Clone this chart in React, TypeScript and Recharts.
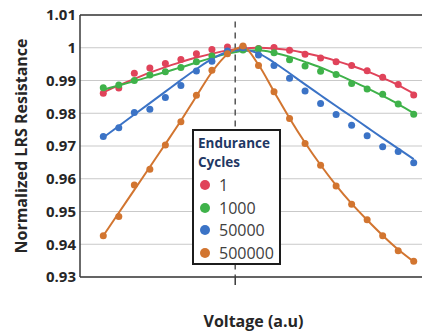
import React from "react";
import {
  LineChart,
  Line,
  XAxis,
  YAxis,
  CartesianGrid,
  ReferenceLine,
  Legend,
} from "recharts";

// voltage steps (a.u) and y ticks
const voltage = [0, 1, 2, 3, 4, 5, 6, 7, 8, 9, 10, 11, 12, 13, 14, 15, 16, 17, 18, 19, 20];
const yTicks = [0.93, 0.94, 0.95, 0.96, 0.97, 0.98, 0.99, 1, 1.01];

// measured points
const cycles1 = [0.9861, 0.9877, 0.9922, 0.9938, 0.9952, 0.9964, 0.9982, 0.9995, 1.0002, 1.0004, 0.9998, 1.0001, 0.9992, 0.998, 0.9969, 0.9957, 0.9946, 0.993, 0.991, 0.9888, 0.9856];
const cycles1000 = [0.9878, 0.9886, 0.99, 0.9917, 0.9927, 0.994, 0.9957, 0.9975, 0.9986, 0.9993, 0.9997, 0.9985, 0.9963, 0.9944, 0.9928, 0.9918, 0.9891, 0.9874, 0.9858, 0.9828, 0.9797];
const cycles50000 = [0.9729, 0.9756, 0.9802, 0.9812, 0.9848, 0.9885, 0.9929, 0.9959, 0.999, 1.0, 0.9978, 0.9946, 0.9907, 0.9868, 0.983, 0.9796, 0.9763, 0.9731, 0.9698, 0.9683, 0.9649];
const cycles500000 = [0.9426, 0.9485, 0.9581, 0.9629, 0.9703, 0.9774, 0.9855, 0.9931, 0.9982, 1.0005, 0.9946, 0.9866, 0.9784, 0.9708, 0.9641, 0.9578, 0.9522, 0.9475, 0.9426, 0.938, 0.9348];

// fitted curves
const fit1 = [0.9864, 0.9885, 0.9905, 0.9924, 0.9941, 0.9956, 0.997, 0.9982, 0.9992, 0.9998, 1.0, 0.9998, 0.9993, 0.9984, 0.9973, 0.996, 0.9945, 0.9928, 0.9908, 0.9886, 0.986];
const fit1000 = [0.9872, 0.9885, 0.9898, 0.9912, 0.9926, 0.994, 0.9955, 0.9969, 0.9982, 0.999, 0.9992, 0.9985, 0.9973, 0.9957, 0.994, 0.992, 0.9899, 0.9877, 0.9853, 0.9828, 0.98];
const fit50000 = [0.9726, 0.9761, 0.9796, 0.9831, 0.9866, 0.9901, 0.9935, 0.9966, 0.9987, 0.9993, 0.9983, 0.9955, 0.9922, 0.9888, 0.9855, 0.9822, 0.979, 0.9757, 0.9724, 0.9692, 0.966];
const fit500000 = [0.9426, 0.9496, 0.9566, 0.9636, 0.9706, 0.9777, 0.9852, 0.9926, 0.998, 1.0002, 0.9948, 0.9866, 0.9785, 0.971, 0.9642, 0.958, 0.9524, 0.9474, 0.9427, 0.9384, 0.9347];

const series = [
  { key: "a", name: "1", color: "#e0435a", points: cycles1, fit: fit1 },
  { key: "b", name: "1000", color: "#3fb24a", points: cycles1000, fit: fit1000 },
  { key: "c", name: "50000", color: "#3b73c6", points: cycles50000, fit: fit50000 },
  { key: "d", name: "500000", color: "#d27530", points: cycles500000, fit: fit500000 },
];

const rows = voltage.map((v, i) => {
  const row: Record<string, number> = { v };
  series.forEach((s) => {
    row["pt_" + s.key] = s.points[i];
    row["fit_" + s.key] = s.fit[i];
  });
  return row;
});

const font = "'Open Sans', sans-serif";

const renderLegend = () => (
  <div
    style={{
      boxSizing: "border-box",
      width: 89,
      height: 136,
      border: "2px solid #1c1c1c",
      background: "#fff",
      padding: "3px 0 0 4px",
      fontFamily: font,
    }}
  >
    <div style={{ fontSize: 13.5, fontWeight: 700, color: "#1f3864", lineHeight: "19px", marginBottom: 2 }}>
      Endurance
      <br />
      Cycles
    </div>
    {series.map((s) => (
      <div key={s.key} style={{ display: "flex", alignItems: "center", height: 22.6 }}>
        <span
          style={{
            width: 10,
            height: 10,
            borderRadius: 5,
            background: s.color,
            marginLeft: 2,
            marginRight: 9,
          }}
        />
        <span style={{ fontSize: 16, color: "#404040" }}>{s.name}</span>
      </div>
    ))}
  </div>
);

export default function App() {
  return (
    <div
      style={{
        position: "absolute",
        left: 0,
        top: 0,
        width: 422,
        height: 331,
        overflow: "hidden",
        background: "#fff",
      }}
    >
      <LineChart width={460} height={331} data={rows} margin={{ top: 15, right: 23, left: 0, bottom: 0 }}>
        <CartesianGrid horizontal vertical={false} stroke="#c9c9c9" />
        <XAxis
          type="number"
          dataKey="v"
          domain={[-1.5, 21.5]}
          ticks={[8.5]}
          tick={() => <g />}
          tickSize={8}
          tickLine={{ stroke: "#3a3a3a", strokeWidth: 1.5 }}
          height={54}
          stroke="#3a3a3a"
          strokeWidth={1.5}
          label={{
            value: "Voltage (a.u)",
            position: "insideBottom",
            offset: 4,
            dx: -5,
            fill: "#262626",
            fontSize: 16,
            fontWeight: 700,
            fontFamily: font,
          }}
        />
        <YAxis
          type="number"
          domain={[0.93, 1.01]}
          ticks={yTicks}
          width={80}
          tickSize={0}
          tickMargin={4}
          stroke="#3a3a3a"
          strokeWidth={1.5}
          tickFormatter={(t: number) => String(Number(t.toFixed(2)))}
          tick={{ fill: "#262626", fontSize: 15, fontWeight: 700, fontFamily: font }}
          label={{
            value: "Normalized LRS Resistance",
            angle: -90,
            position: "center",
            dx: -19,
            fill: "#262626",
            fontSize: 16,
            fontWeight: 700,
            fontFamily: font,
          }}
        />
        <ReferenceLine y={1.01} stroke="#3a3a3a" strokeWidth={1.5} />
        <ReferenceLine
          segment={[
            { x: 8.5, y: 1.008 },
            { x: 8.5, y: 0.93 },
          ]}
          stroke="#555"
          strokeDasharray="6 5"
          strokeWidth={1.5}
        />
        {series.map((s) => [
          <Line
            key={"fit_" + s.key}
            type="monotone"
            dataKey={"fit_" + s.key}
            stroke={s.color}
            strokeWidth={2}
            dot={false}
            activeDot={false}
            legendType="none"
            isAnimationActive={false}
          />,
          <Line
            key={"pt_" + s.key}
            type="linear"
            dataKey={"pt_" + s.key}
            name={s.name}
            stroke="none"
            dot={{ r: 3.5, fill: s.color, stroke: "none" }}
            activeDot={false}
            isAnimationActive={false}
          />,
        ])}
        <Legend
          layout="horizontal"
          verticalAlign="middle"
          align="center"
          content={renderLegend}
          wrapperStyle={{ left: 192, top: 129, width: 89, height: 136 }}
        />
      </LineChart>
    </div>
  );
}
